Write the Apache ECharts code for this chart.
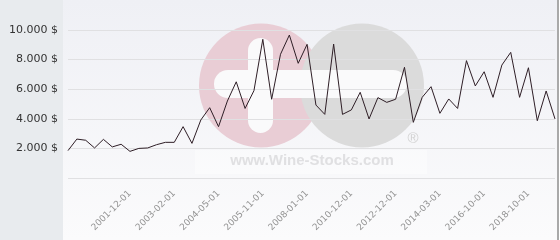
<!DOCTYPE html>
<html>
<head>
<meta charset="utf-8">
<script src="https://cdn.jsdelivr.net/npm/echarts@6/dist/echarts.min.js"></script>
<style>
html,body{margin:0;padding:0;background:#fff;}
#c{width:560px;height:240px;}
</style>
</head>
<body>
<div id="c"></div>
<script>
const categories = [
  '2000-06-01','2000-09-01','2000-12-01','2001-02-01','2001-05-01','2001-07-01','2001-10-01',
  '2001-12-01','2002-03-01','2002-05-01','2002-09-01','2002-12-01',
  '2003-02-01','2003-05-01','2003-09-01','2003-12-01','2004-02-01',
  '2004-05-01','2004-09-01','2004-12-01','2005-04-01','2005-07-01',
  '2005-11-01','2006-04-01','2006-09-01','2007-02-01','2007-07-01',
  '2008-01-01','2008-09-01','2009-05-01','2009-11-01','2010-06-01',
  '2010-12-01','2011-05-01','2011-10-01','2012-03-01','2012-08-01',
  '2012-12-01','2013-03-01','2013-06-01','2013-09-01','2013-12-01',
  '2014-03-01','2014-10-01','2015-05-01','2015-11-01','2016-05-01',
  '2016-10-01','2017-03-01','2017-07-01','2017-11-01','2018-05-01',
  '2018-10-01','2019-02-01','2019-06-01','2019-10-01'
];
const prices = [
  1850, 2630, 2550, 2030, 2610, 2100, 2280,
  1800, 2000, 2030, 2250, 2410,
  2410, 3470, 2340, 3920, 4750,
  3470, 5200, 6500, 4700, 5900,
  9370, 5320, 8360, 9660, 7750,
  9030, 4930, 4300, 9050, 4300,
  4600, 5790, 3990, 5430, 5110,
  5320, 7480, 3760, 5450, 6170,
  4370, 5340, 4700, 7930, 6220,
  7180, 5450, 7630, 8490, 5450,
  7450, 3870, 5880, 3990
];
const yTicks = [0, 2000, 4000, 6000, 8000, 10000];

function fmt(v) {
  if (v === 0) return '';
  const s = String(v).replace(/\B(?=(\d{3})+(?!\d))/g, '.');
  return s + ' $';
}

const chart = echarts.init(document.getElementById('c'), null, {renderer: 'canvas'});
chart.setOption({
  animation: false,
  backgroundColor: '#ffffff',
  graphic: [
    {type: 'rect', z: -100, silent: true, shape: {x: 0, y: 0, width: 63, height: 240}, style: {fill: '#e8ebee'}},
    {type: 'rect', z: -100, silent: true, shape: {x: 63, y: 0, width: 494, height: 240},
      style: {fill: new echarts.graphic.LinearGradient(0, 0, 0, 1, [
        {offset: 0, color: '#eff0f5'}, {offset: 1, color: '#fbfbfc'}])}},
    {type: 'rect', z: -100, silent: true, shape: {x: 557, y: 0, width: 2, height: 240}, style: {fill: '#a9a9a9'}},
    {type: 'rect', z: -95, silent: true, shape: {x: 195, y: 150, width: 232, height: 24}, style: {fill: '#ffffff', opacity: 0.4}},
    {type: 'circle', z: -90, silent: true, shape: {cx: 261, cy: 85.5, r: 62}, style: {fill: '#e9cdd5'}},
    {type: 'circle', z: -89, silent: true, shape: {cx: 362, cy: 85.5, r: 62}, style: {fill: '#dbdbdb'}},
    {type: 'rect', z: -88, silent: true, shape: {x: 248, y: 38, width: 25, height: 95, r: 12.5}, style: {fill: '#fafafb'}},
    {type: 'rect', z: -88, silent: true, shape: {x: 214, y: 70, width: 193, height: 28, r: 14}, style: {fill: '#fafafb'}},
    {type: 'text', z: -88, silent: true, style: {x: 413, y: 139, text: '®', fill: '#d2d2d2', font: '15px "Liberation Sans"', align: 'center', verticalAlign: 'middle'}},
    {type: 'text', z: -88, silent: true, style: {x: 312, y: 161, text: 'www.Wine-Stocks.com', fill: '#e0e0e2', font: 'bold 15px "Liberation Sans"', align: 'center', verticalAlign: 'middle'}}
  ],
  grid: {left: 68, right: 5, top: 30, bottom: 62, containLabel: false},
  xAxis: {
    type: 'category',
    data: categories,
    boundaryGap: false,
    axisLine: {show: false},
    axisTick: {show: false},
    splitLine: {show: false},
    axisLabel: {
      rotate: 45,
      margin: 14,
      interval: function (index) { return index >= 7 && (index - 7) % 5 === 0; },
      color: '#939393',
      fontFamily: 'DejaVu Sans',
      fontSize: 9
    }
  },
  yAxis: {
    type: 'value',
    min: yTicks[0],
    max: yTicks[yTicks.length - 1],
    interval: 2000,
    axisLine: {show: false},
    axisTick: {show: false},
    splitLine: {show: true, lineStyle: {color: '#e0e0e2', width: 1}},
    axisLabel: {
      formatter: fmt,
      margin: 10,
      color: '#333333',
      fontFamily: 'DejaVu Sans',
      fontSize: 11
    }
  },
  series: [{
    type: 'line',
    data: prices,
    symbol: 'none',
    lineStyle: {color: '#2e1e26', width: 1},
    z: 5
  }]
});
</script>
</body>
</html>
